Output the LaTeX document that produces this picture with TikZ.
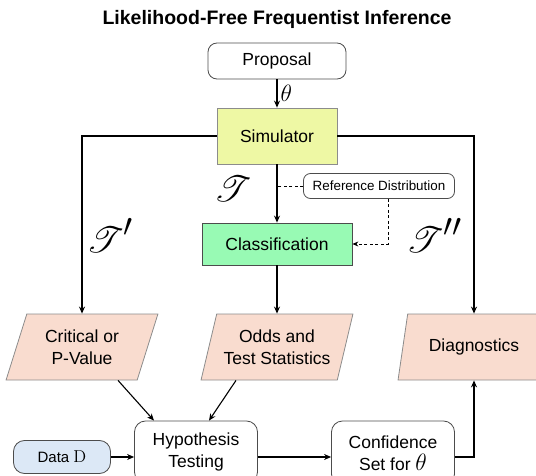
\RequirePackage{fix-cm}
\documentclass[tikz,border=0pt]{standalone}
\usepackage[no-math]{fontspec}
\setmainfont{Liberation Sans}
\usepackage{amsmath,mathrsfs,graphicx}
\usepackage{tikz}
\usetikzlibrary{arrows.meta}
\usetikzlibrary{positioning,shapes.geometric,calc}

\definecolor{simfill}{RGB}{238,248,164}
\definecolor{clsfill}{RGB}{152,250,180}
\definecolor{outfill}{RGB}{249,220,207}
\definecolor{datafill}{RGB}{220,232,246}

\newcommand{\bigT}[1]{\scalebox{1.45}{$\mathscr{T}#1$}}
\newcommand{\thetalbl}{\scalebox{1.35}{$\theta$}}

\tikzset{
	txt/.style={font=\fontsize{17.5}{21.5}\selectfont},
	roundbox/.style={draw=black!70,thick,rounded corners=9pt,align=center,txt},
	procbox/.style={draw=black!45,thick,align=center,txt},
	outbox/.style={trapezium,trapezium left angle=68,trapezium right angle=112,
		trapezium stretches=true,draw=black!45,thick,fill=outfill,align=center,txt,
		minimum width=152pt,minimum height=66pt,inner sep=0pt},
	biglabel/.style={font=\fontsize{32}{36}\selectfont,inner sep=0pt},
}

\begin{document}
\begin{tikzpicture}[x=1pt,y=-1pt,>={Stealth[length=7pt,width=6pt]}]
	\useasboundingbox (0,0) rectangle (536,476);

	\node[font=\bfseries\fontsize{19.5}{22}\selectfont] (title) at (277,19) {Likelihood-Free Frequentist Inference};

	% top column
	\node[roundbox,minimum width=138pt,minimum height=36pt] (prop) at (277,61) {Proposal};
	\node[procbox,fill=simfill,minimum width=120pt,minimum height=56pt] (sim) at (277,136) {Simulator};
	\node[roundbox,rounded corners=7pt,font=\fontsize{13.4}{16}\selectfont,
		minimum width=151pt,minimum height=25pt] (refd) at (379,186) {Reference Distribution};
	\node[procbox,draw=black!70,fill=clsfill,minimum width=150pt,minimum height=42pt] (cls) at (277,244) {Classification};

	% outputs
	\node[outbox] (crit) at (82,347) {Critical or\\P-Value};
	\node[outbox] (odds) at (277,347) {Odds and\\Test Statistics};
	\node[outbox] (diag) at (474,347) {Diagnostics};

	% bottom row
	\node[roundbox,rounded corners=11pt,fill=datafill,font=\fontsize{15}{18}\selectfont,
		minimum width=97pt,minimum height=33pt] (data) at (62,457) {Data \scalebox{1.15}{$\mathrm{D}$}};
	\node[roundbox,rounded corners=11pt,minimum width=123pt,minimum height=62pt] (hyp) at (196,452) {Hypothesis\\Testing};
	\node[roundbox,rounded corners=11pt,minimum width=123pt,minimum height=64pt] (conf) at (393,453) {Confidence\\Set for \thetalbl};

	\begin{scope}[line width=1.1pt]
		\draw[->] (prop) -- node[right=2pt,inner sep=1pt,txt] {\thetalbl} (sim);
		\draw[->] (sim) -- node[pos=0.42,left=25pt,biglabel] {\bigT{}} (cls);
		\draw[->] (sim.west) -| node[pos=0.78,right=4pt,biglabel] {\bigT{'}} (crit.north);
		\draw[->] (sim.east) -| node[pos=0.78,left=11pt,biglabel] {\bigT{''}} (diag.north);
		\draw[->] (cls) -- (odds);

		\draw[->] ([xshift=36pt]crit.south) -- ([xshift=-42pt]hyp.north);
		\draw[->] ([xshift=-41pt]odds.south) -- ([xshift=13pt]hyp.north);

		\draw[->] (data.east) -- (data.east -| hyp.west);
		\draw[->] ([yshift=-5pt]hyp.east) -- ([yshift=-5pt]hyp.east -| conf.west);
		\draw[->] ([yshift=-4pt]conf.east) -| (diag.south);
	\end{scope}

	\begin{scope}[thick,dash pattern=on 3pt off 2.5pt]
		\draw (refd.west) -- (refd.west -| cls.north);
		\draw[-{Stealth[length=6pt,width=5pt]}] ([xshift=9pt]refd.south) |- (cls.east);
	\end{scope}
\end{tikzpicture}
\end{document}
